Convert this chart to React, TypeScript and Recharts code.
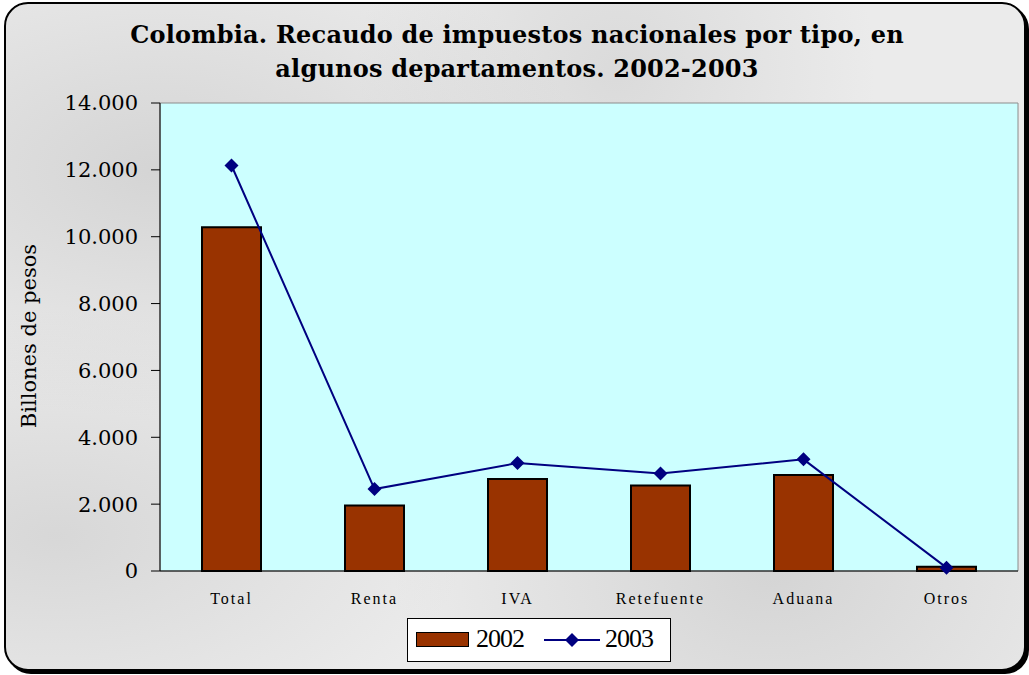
import { ComposedChart, Bar, Line, XAxis, YAxis, CartesianGrid, ReferenceArea } from "recharts";

const categories = ["Total", "Renta", "IVA", "Retefuente", "Aduana", "Otros"];
const values2002 = [10280, 1960, 2750, 2560, 2870, 130];
const values2003 = [12130, 2450, 3230, 2920, 3340, 100];
const yTicks = [0, 2000, 4000, 6000, 8000, 10000, 12000, 14000];
const edgeTicks = [0, 1, 2, 3, 4, 5, 6];

const data = categories.map((name, i) => ({ name, y2002: values2002[i], y2003: values2003[i] }));

const fmt = (v: number) => String(v).replace(/\B(?=(\d{3})+(?!\d))/g, ".");

const BROWN = "#993300";
const NAVY = "#000080";

function Diamond(props: any) {
  const { cx, cy, index } = props;
  if (cx == null || cy == null) return null;
  const r = 7;
  return (
    <polygon
      key={`d-${index}`}
      points={`${cx},${cy - r} ${cx + r},${cy} ${cx},${cy + r} ${cx - r},${cy}`}
      fill={NAVY}
    />
  );
}

// soft grey "marble" look for the frame
const marble =
  "radial-gradient(ellipse at 15% 25%, rgba(170,170,170,0.35) 0%, rgba(0,0,0,0) 35%), " +
  "radial-gradient(ellipse at 75% 85%, rgba(160,160,160,0.30) 0%, rgba(0,0,0,0) 35%), " +
  "radial-gradient(ellipse at 60% 10%, rgba(180,180,180,0.30) 0%, rgba(0,0,0,0) 30%), " +
  "radial-gradient(ellipse at 5% 80%, rgba(170,170,170,0.30) 0%, rgba(0,0,0,0) 30%), " +
  "#ebebeb";

export default function App() {
  return (
    <div style={{ position: "absolute", left: 0, top: 0, width: 1029, height: 675, background: "#fff", overflow: "hidden" }}>
      <div
        style={{
          position: "absolute",
          left: 4,
          top: 2,
          width: 1018,
          height: 665,
          border: "2px solid #000",
          borderRadius: 24,
          boxShadow: "3px 3px 0 #000",
          background: marble,
        }}
      />
      <div
        style={{
          position: "absolute",
          left: 0,
          top: 18,
          width: 1034,
          textAlign: "center",
          fontFamily: "'DejaVu Serif', serif",
          fontWeight: "bold",
          fontSize: 24,
          letterSpacing: 0.2,
          lineHeight: "34px",
          color: "#000",
        }}
      >
        Colombia. Recaudo de impuestos nacionales por tipo, en
        <br />
        algunos departamentos. 2002-2003
      </div>
      <div
        style={{
          position: "absolute",
          left: 29,
          top: 336,
          transform: "translate(-50%, -50%) rotate(-90deg)",
          whiteSpace: "nowrap",
          fontFamily: "'DejaVu Serif', serif",
          fontSize: 21,
          color: "#000",
        }}
      >
        Billones de pesos
      </div>
      <div style={{ position: "absolute", left: 0, top: 0 }}>
        <ComposedChart width={1029} height={675} data={data} margin={{ top: 103, right: 11, left: 100, bottom: 102 }}>
          <CartesianGrid fill="#CCFFFF" horizontal={false} vertical={false} />
          <ReferenceArea y1={0} y2={14000} fill="none" stroke="#8c8c8c" strokeWidth={1} ifOverflow="visible" />
          <XAxis
            xAxisId="edges"
            type="number"
            domain={[0, 6]}
            ticks={edgeTicks}
            tick={false}
            tickSize={8}
            axisLine={false}
            tickLine={{ stroke: "#000" }}
            height={1}
          />
          <XAxis
            dataKey="name"
            height={1}
            interval={0}
            tickSize={0}
            tickMargin={22}
            tickLine={false}
            axisLine={{ stroke: "#000" }}
            tick={{ fill: "#000", fontFamily: "'Liberation Serif', serif", fontSize: 16, letterSpacing: 2 }}
          />
          <YAxis
            domain={[0, 14000]}
            ticks={yTicks}
            interval={0}
            width={60}
            tickSize={9}
            tickMargin={13}
            tickFormatter={fmt}
            axisLine={{ stroke: "#000" }}
            tickLine={{ stroke: "#000" }}
            tick={{ fill: "#000", fontFamily: "'DejaVu Serif', serif", fontSize: 21 }}
          />
          <Bar dataKey="y2002" fill={BROWN} stroke="#000" strokeWidth={2} barSize={59} isAnimationActive={false} />
          <Line
            dataKey="y2003"
            stroke={NAVY}
            strokeWidth={2}
            dot={Diamond}
            activeDot={false}
            isAnimationActive={false}
          />
        </ComposedChart>
      </div>
      <div
        style={{
          position: "absolute",
          left: 407,
          top: 618,
          width: 262,
          height: 42,
          border: "1px solid #000",
          background: "#fff",
          fontFamily: "'Liberation Serif', serif",
          fontSize: 26,
          color: "#000",
        }}
      >
        <div style={{ position: "absolute", left: 8, top: 13, width: 51, height: 13, background: BROWN, border: "1px solid #000" }} />
        <div style={{ position: "absolute", left: 68, top: 5, lineHeight: "30px", letterSpacing: -1 }}>2002</div>
        <svg style={{ position: "absolute", left: 135, top: 10 }} width={58} height={22}>
          <line x1={1} y1={11} x2={57} y2={11} stroke={NAVY} strokeWidth={2} />
          <polygon points="29,4 36,11 29,18 22,11" fill={NAVY} />
        </svg>
        <div style={{ position: "absolute", left: 197, top: 5, lineHeight: "30px", letterSpacing: -1 }}>2003</div>
      </div>
    </div>
  );
}
